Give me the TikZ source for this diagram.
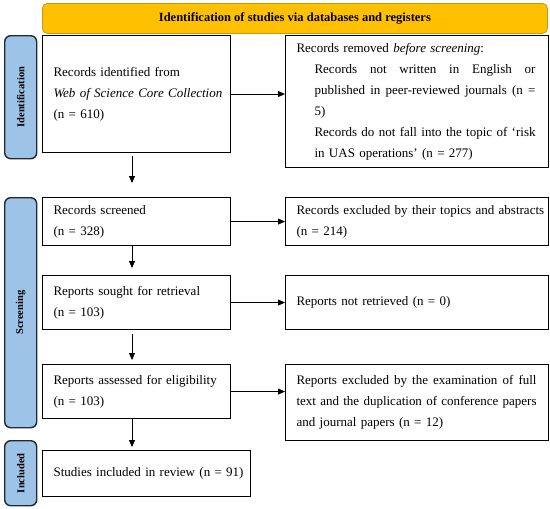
\documentclass[tikz,border=0pt]{standalone}
\usepackage{fontspec}
\setmainfont{Liberation Serif}
\usetikzlibrary{arrows.meta}
\definecolor{bannerfill}{HTML}{FFC000}
\definecolor{bannerline}{HTML}{C99A00}
\definecolor{sidefill}{HTML}{9DC3E6}
\definecolor{sideline}{HTML}{1F2A36}
\newcommand\jline[2]{\makebox[#1][l]{#2}}
\begin{document}
\begin{tikzpicture}[x=1pt,y=-1pt,
  box/.style={draw=black, line width=1.1pt, anchor=north west, inner xsep=11pt, inner ysep=0pt, align=left, font=\fontsize{13}{21}\selectfont},
  side/.style={draw=sideline, fill=sidefill, line width=1.4pt, rounded corners=6pt, anchor=north west, inner sep=0pt, minimum width=32pt},
  sidelabel/.style={rotate=90, inner sep=0pt, font=\bfseries\fontsize{10.5}{12}\selectfont},
  arr/.style={-{Triangle[length=7pt,width=6pt]}, line width=0.8pt}
]
\useasboundingbox (0,0) rectangle (550,509);

\node[draw=bannerline, fill=bannerfill, line width=0.8pt, rounded corners=5pt, anchor=north west, minimum width=505pt, minimum height=30pt, inner sep=0pt, font=\bfseries\fontsize{12.5}{14}\selectfont] (banner) at (42,3) {Identification of studies via databases and registers};

\node[side, minimum height=123pt] (sid) at (4,35) {};
\node[sidelabel] (sidlab) at (sid.center) {Identification};
\node[side, minimum height=230pt] (sscr) at (4,197) {};
\node[sidelabel] (sscrlab) at (sscr.center) {Screening};
\node[side, minimum height=65pt] (sinc) at (4,440) {};
\node[sidelabel] (sinclab) at (sinc.center) {Included};

\node[box, text width=166pt, minimum height=117pt] (id) at (42,35)
  {\mbox{Records identified from}\\ \mbox{\textit{Web of Science Core Collection}}\\ \mbox{(n = 610)}};
\node[box, text width=241pt, minimum height=132pt] (rem) at (285,35)
  {\mbox{Records removed \textit{before screening}:}\\
   \hspace*{18pt}\jline{221pt}{Records\hfill not\hfill written\hfill in\hfill English\hfill or}\\
   \hspace*{18pt}\jline{221pt}{published\hfill in\hfill peer-reviewed\hfill journals\hfill (n\hfill =}\\
   \hspace*{18pt}5)\\
   \hspace*{18pt}\jline{221pt}{Records\hfill do\hfill not\hfill fall\hfill into\hfill the\hfill topic\hfill of\hfill ‘risk}\\
   \hspace*{18pt}\mbox{in UAS operations’ (n = 277)}};
\node[box, text width=166pt, minimum height=48pt] (scr) at (42,197)
  {\mbox{Records screened}\\ \mbox{(n = 328)}};
\node[box, text width=241pt, minimum height=48pt] (exc) at (285,197)
  {\mbox{Records excluded by their topics and abstracts}\\ \mbox{(n = 214)}};
\node[box, text width=166pt, minimum height=54pt] (sou) at (42,275)
  {\mbox{Reports sought for retrieval}\\ \mbox{(n = 103)}};
\node[box, text width=241pt, minimum height=54pt] (nret) at (285,275)
  {\mbox{Reports not retrieved (n = 0)}};
\node[box, text width=166pt, minimum height=54pt] (ass) at (42,364)
  {\mbox{Reports assessed for eligibility}\\ \mbox{(n = 103)}};
\node[box, text width=241pt, minimum height=76pt] (rexc) at (285,364)
  {\jline{240pt}{Reports\hfill excluded\hfill by\hfill the\hfill examination\hfill of\hfill full}\\
   \jline{240pt}{text\hfill and\hfill the\hfill duplication\hfill of\hfill conference\hfill papers}\\
   \mbox{and journal papers (n = 12)}};
\node[box, text width=186pt, minimum height=46pt] (inc) at (42,450)
  {\mbox{Studies included in review (n = 91)}};

\coordinate (ax) at (132,0);
\draw[arr] (id.east) -- (rem.west |- id.east);
\draw[arr] (scr.east) -- (exc.west |- scr.east);
\draw[arr] (sou.east) -- (nret.west |- sou.east);
\draw[arr] (ass.east) -- (rexc.west |- ass.east);
\draw[arr, shorten <=3pt, shorten >=14pt] (id.south -| ax) -- (scr.north -| ax);
\draw[arr, shorten >=7pt] (scr.south -| ax) -- (sou.north -| ax);
\draw[arr, shorten <=4pt, shorten >=4pt] (sou.south -| ax) -- (ass.north -| ax);
\draw[arr, shorten >=3pt] (ass.south -| ax) -- (inc.north -| ax);
\end{tikzpicture}
\end{document}
